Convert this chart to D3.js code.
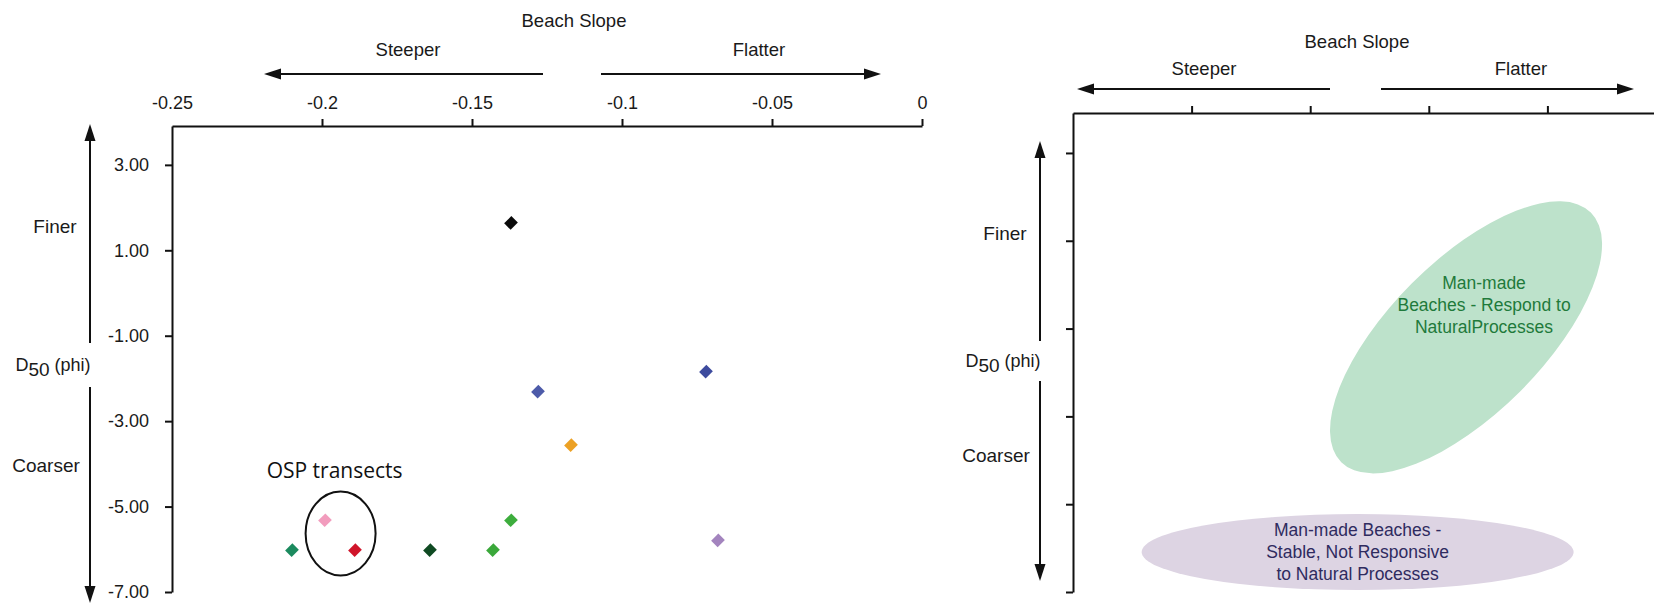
<!DOCTYPE html>
<html>
<head>
<meta charset="utf-8">
<script src="https://cdn.jsdelivr.net/npm/d3@7"></script>
<style>
  html, body { margin: 0; padding: 0; background: #fff; }
  svg { display: block; }
  text { font-family: "Liberation Sans", Arial, Helvetica, sans-serif; fill: #1a1a1a; }
  .tick text { font-size: 18px; fill: #1a1a1a; }
  .label { font-size: 19px; }
</style>
</head>
<body>
<svg id="chart" width="1654" height="605"></svg>
<script>
// ---- data -------------------------------------------------------------
const xTicks = [-0.25, -0.2, -0.15, -0.1, -0.05, 0];
const yTicks = [3, 1, -1, -3, -5, -7];

// measured beach transects: slope vs median grain size D50 (phi)
const beachSlope = [-0.137, -0.072, -0.128, -0.117, -0.199, -0.137, -0.210, -0.189, -0.164, -0.143, -0.068];
const d50Phi     = [ 1.64,  -1.84,  -2.31,  -3.56,  -5.32,  -5.32,  -6.02,  -6.02,  -6.02,  -6.02,  -5.79];
const siteColors = ["#0a0a0a", "#3d4b9e", "#4d5ba9", "#eca125", "#f29cbd", "#3dad3d",
                    "#1b8a5e", "#d0142a", "#0f4a22", "#3aa83a", "#a384be"];

// OSP transect group (pink and red sites)
const ospSlope = -0.1938;
const ospPhi = -5.63;

// conceptual response regions
const regionLines = [
  ["Man-made", "Beaches - Respond to", "NaturalProcesses"],
  ["Man-made Beaches -", "Stable, Not Responsive", "to Natural Processes"]
];
const regionSlope = [-0.0843, -0.130];
const regionPhi   = [-1.2, -6.09];
const regionFill  = ["#bde2cb", "#ddd4e3"];
const regionInk   = ["#1f7a3b", "#2f2b5f"];

// ---- layout -----------------------------------------------------------
const svg = d3.select("#chart");
const INK = "#111";

function arrow(g, x1, y1, x2, y2) {
  // straight line ending in a filled triangular head at (x2, y2)
  const ang = Math.atan2(y2 - y1, x2 - x1);
  const len = 17, hw = 5.5;
  const bx = x2 - len * Math.cos(ang), by = y2 - len * Math.sin(ang);
  g.append("line").attr("x1", x1).attr("y1", y1).attr("x2", bx).attr("y2", by)
    .attr("stroke", INK).attr("stroke-width", 2);
  const px = -Math.sin(ang) * hw, py = Math.cos(ang) * hw;
  g.append("path")
    .attr("d", `M${x2},${y2}L${bx + px},${by + py}L${bx - px},${by - py}Z`)
    .attr("fill", INK);
}

function styleAxis(g) {
  g.selectAll(".domain").attr("stroke", INK).attr("stroke-width", 2);
  g.selectAll(".tick line").attr("stroke", INK).attr("stroke-width", 2);
  g.attr("font-family", null).attr("font-size", null);
}

function slopeHeader(g, cx, yTitle, yWord, yArrow, steeperX, flatterX, arrows) {
  g.append("text").attr("class", "label").attr("x", cx).attr("y", yTitle)
    .attr("text-anchor", "middle").style("font-size", "18.5px").text("Beach Slope");
  g.append("text").attr("class", "label").attr("x", steeperX).attr("y", yWord)
    .attr("text-anchor", "middle").style("font-size", "18.5px").text("Steeper");
  g.append("text").attr("class", "label").attr("x", flatterX).attr("y", yWord)
    .attr("text-anchor", "middle").style("font-size", "18.5px").text("Flatter");
  arrow(g, arrows[0], yArrow, arrows[1], yArrow);
  arrow(g, arrows[2], yArrow, arrows[3], yArrow);
}

function grainSide(g, x, cx, topTip, gapTop, gapBot, botTip, dBase, finerY, coarserY) {
  arrow(g, x, gapTop, x, topTip);
  arrow(g, x, gapBot, x, botTip);
  const t = g.append("text").attr("class", "label").attr("x", cx).attr("y", dBase)
    .attr("text-anchor", "middle").style("font-size", "18px");
  t.append("tspan").text("D");
  t.append("tspan").attr("dy", 5).style("font-size", "19px").text("50");
  t.append("tspan").attr("dy", -5).text(" (phi)");
  g.append("text").attr("class", "label").attr("x", cx + 2).attr("y", finerY)
    .attr("text-anchor", "middle").text("Finer");
  g.append("text").attr("class", "label").attr("x", cx - 7).attr("y", coarserY)
    .attr("text-anchor", "middle").text("Coarser");
}

// ---- left panel: measured transects ----------------------------------
const xL = d3.scaleLinear().domain([-0.25, 0]).range([172, 922]);
const yL = d3.scaleLinear().domain([-7, 3.91]).range([592, 126]);
const left = svg.append("g");

const xAxisL = left.append("g").attr("transform", `translate(0,${yL.range()[1]})`)
  .call(d3.axisTop(xL).tickValues(xTicks).tickSize(7).tickPadding(10)
    .tickSizeOuter(0).tickFormat(d => String(d)));
xAxisL.selectAll(".tick").filter(d => d === xTicks[0]).select("line").remove();
styleAxis(xAxisL);

const yAxisL = left.append("g").attr("transform", `translate(${xL.range()[0]},0)`)
  .call(d3.axisLeft(yL).tickValues(yTicks).tickSize(7).tickPadding(16)
    .tickSizeOuter(0).tickFormat(d => d.toFixed(2)));
styleAxis(yAxisL);

slopeHeader(left, 574, 27, 56, 74, 408, 759, [543, 264, 601, 881]);
grainSide(left, 90, 53, 124, 343, 387, 603, 371, 233, 472);

// diamonds
const diamond = d3.symbol().type(d3.symbolSquare).size(94);
left.append("g").selectAll("path")
  .data(beachSlope.map((s, i) => ({ s, p: d50Phi[i], c: siteColors[i] })))
  .join("path")
  .attr("d", diamond)
  .attr("transform", d => `translate(${xL(d.s)},${yL(d.p)}) rotate(45) scale(0.95,1.05)`)
  .attr("fill", d => d.c);

// OSP group outline and label
left.append("ellipse")
  .attr("cx", xL(ospSlope)).attr("cy", yL(ospPhi))
  .attr("rx", 35).attr("ry", 42)
  .attr("fill", "none").attr("stroke", INK).attr("stroke-width", 2);
left.append("text")
  .attr("x", xL(ospSlope) - 6).attr("y", yL(ospPhi) - 55)
  .attr("text-anchor", "middle")
  .style("font-family", "'Open Sans', 'Noto Sans', sans-serif")
  .style("font-size", "21px").style("fill", "#111")
  .text("OSP transects");

// ---- right panel: conceptual regions ----------------------------------
const xR = d3.scaleLinear().domain([-0.25, 0]).range([1073, 1666]);
const yR = d3.scaleLinear().domain([-7, 3.91]).range([592, 113]);
const right = svg.append("g");

// regions drawn first so axes sit on top
const rx = [176.5, 216], ry = [76.5, 38], rot = [-45, 0];
const lineOffsets = [[-48, -26, -4], [-16, 6, 28]];
const textDx = [18, 0];
regionLines.forEach((lines, i) => {
  const cx = xR(regionSlope[i]), cy = yR(regionPhi[i]);
  right.append("ellipse")
    .attr("cx", 0).attr("cy", 0).attr("rx", rx[i]).attr("ry", ry[i])
    .attr("transform", `translate(${cx},${cy}) rotate(${rot[i]})`)
    .attr("fill", regionFill[i]);
  const t = right.append("text").attr("text-anchor", "middle")
    .style("font-size", "17.5px").style("fill", regionInk[i]);
  lines.forEach((ln, j) => {
    t.append("tspan").attr("x", cx + textDx[i]).attr("y", cy + lineOffsets[i][j]).text(ln);
  });
});

const xAxisR = right.append("g").attr("transform", `translate(0,${yR.range()[1]})`)
  .call(d3.axisTop(xR).tickValues(xTicks.slice(1, 5)).tickSize(7)
    .tickSizeOuter(0).tickFormat(""));
styleAxis(xAxisR);

const yAxisR = right.append("g").attr("transform", `translate(${xR.range()[0]},0)`)
  .call(d3.axisLeft(yR).tickValues(yTicks).tickSize(7)
    .tickSizeOuter(0).tickFormat(""));
styleAxis(yAxisR);

slopeHeader(right, 1357, 48, 75, 89, 1204, 1521, [1330, 1077, 1381, 1634]);
grainSide(right, 1040, 1003, 141, 341, 381, 581, 367, 240, 462);
</script>
</body>
</html>
